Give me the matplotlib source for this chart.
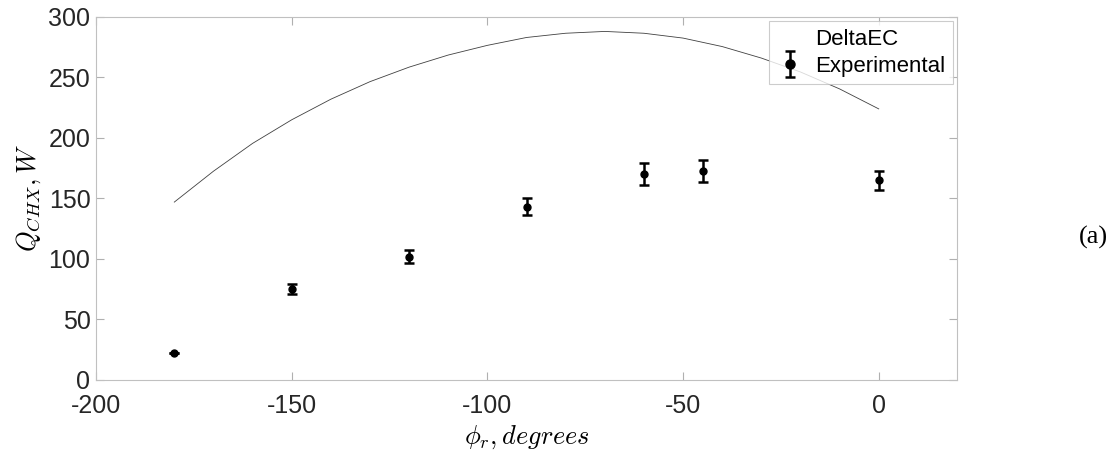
import matplotlib.pyplot as plt
from matplotlib.lines import Line2D
from matplotlib.container import ErrorbarContainer
from matplotlib.legend_handler import HandlerErrorbar
import numpy as np

# DeltaEC model curve
phi_model = [-180, -170, -160, -150, -140, -130, -120, -110, -100, -90,
             -80, -70, -60, -50, -40, -30, -20, -10, 0]
q_model = [147, 172.5, 195.5, 215, 232, 246.5, 258.5, 268.5, 276.5, 283,
           286.5, 288, 286.5, 282.5, 275.5, 266, 254.5, 240.5, 224]

# experimental points
phi_exp = [-180, -150, -120, -90, -60, -45, 0]
q_exp = [22, 75, 102, 143, 170, 173, 165]
q_err = [0, 4, 5, 7, 9, 9, 8]

plt.rcParams['font.family'] = ['Liberation Sans', 'DejaVu Sans']
plt.rcParams['mathtext.fontset'] = 'cm'
plt.rcParams['axes.unicode_minus'] = False

fig = plt.figure(figsize=(11.18, 4.57), dpi=100)
ax = fig.add_axes([0.0859, 0.1685, 0.7701, 0.7945])

ax.plot(phi_model, q_model, color='#404040', lw=0.6, label='DeltaEC')
ax.errorbar(phi_exp, q_exp, yerr=q_err, fmt='o', color='black', ms=5,
            elinewidth=1.8, capsize=3.5, capthick=1.8, label='Experimental')

ax.set_xlim(-200, 20)
ax.set_ylim(0, 300)
ax.set_xticks(np.arange(-200, 1, 50))
ax.set_yticks(np.arange(0, 301, 50))
ax.tick_params(direction='in', top=True, right=True, length=6, width=0.8,
               color='#b0b0b0', labelsize=18, labelcolor='#262626', pad=4)
ax.tick_params(axis='x', pad=10)
for s in ax.spines.values():
    s.set_color('#c0c0c0')
    s.set_linewidth(0.8)

ax.set_xlabel(r'$\phi_r, degrees$', fontsize=19, labelpad=4)
ax.set_ylabel(r'$Q_{CHX}, W$', fontsize=19, labelpad=4)

handles = [Line2D([], [], color='none'),
           ax.get_legend_handles_labels()[0][1]]
leg = ax.legend(handles, ['DeltaEC', 'Experimental'], loc='upper right',
                fontsize=16, frameon=True, fancybox=False, edgecolor='#c0c0c0',
                borderaxespad=0.2, handlelength=1.2, handletextpad=0.5,
                borderpad=0.35, labelspacing=0.25, markerscale=1.3,
                handler_map={ErrorbarContainer: HandlerErrorbar(yerr_size=0.6)})
leg.get_frame().set_linewidth(0.8)

fig.text(0.991, 0.481, '(a)', fontsize=19, family='Liberation Serif',
         ha='right', va='center')

fig.savefig('out.png', dpi=100)
